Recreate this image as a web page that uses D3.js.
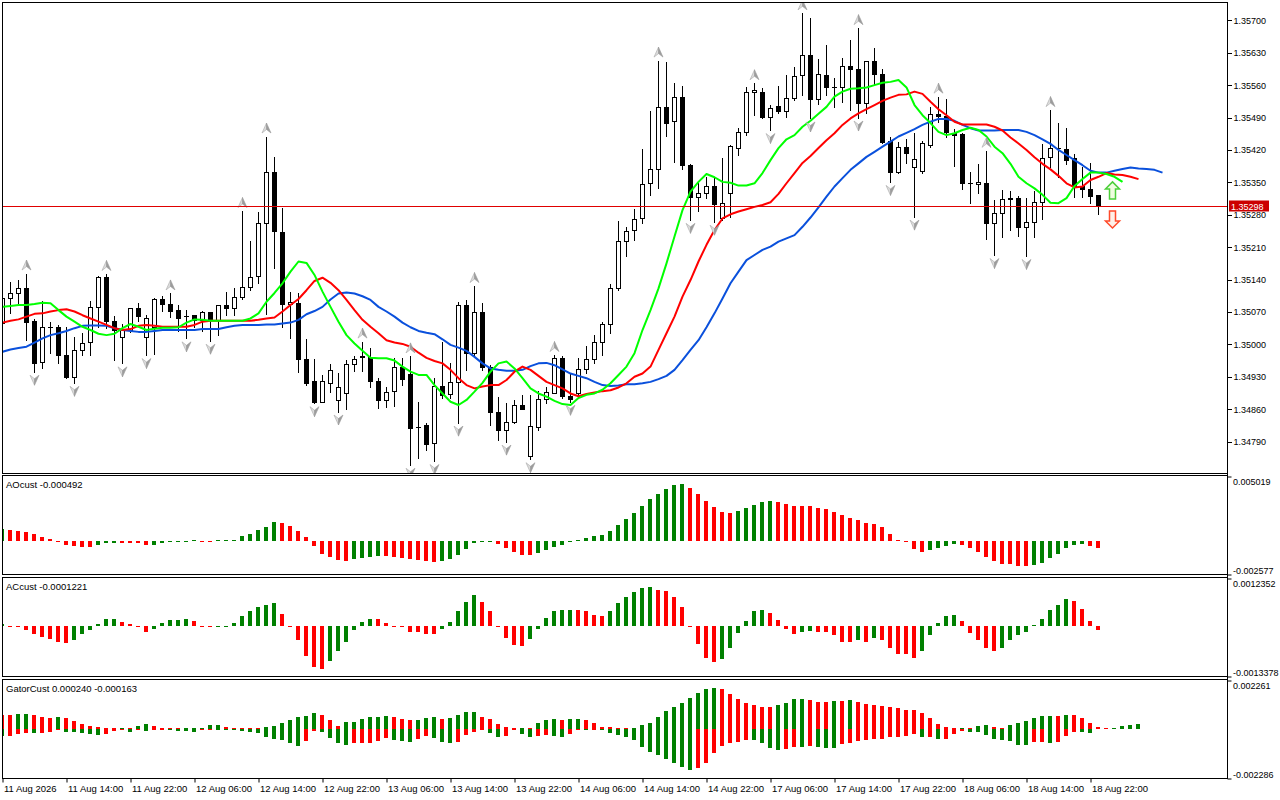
<!DOCTYPE html>
<html><head><meta charset="utf-8">
<script src="https://cdn.jsdelivr.net/npm/d3@7"></script>
<style>html,body{margin:0;padding:0;background:#fff;}svg{display:block;}</style>
</head><body>
<svg id="c" width="1280" height="800"></svg>
<script>
// ---------------- DATA ----------------
const opens = [1.35046,1.35100,1.35112,1.35121,1.35051,1.34961,1.35037,1.35037,1.34977,1.34930,
1.34988,1.35006,1.35080,1.35145,1.35051,1.35017,1.35031,1.35078,1.35015,1.35038,
1.35097,1.35087,1.35074,1.35062,1.35063,1.35053,1.35069,1.35053,1.35085,1.35078,
1.35103,1.35123,1.35148,1.35262,1.35372,1.35242,1.35087,1.35090,1.34968,1.34921,
1.34876,1.34917,1.34880,1.34896,1.34958,1.34974,1.34972,1.34920,1.34879,1.34899,
1.34951,1.34936,1.34822,1.34826,1.34786,1.34910,1.34892,1.34918,1.35085,1.34982,
1.35069,1.34952,1.34853,1.34814,1.34833,1.34868,1.34758,1.34821,1.34881,1.34896,
1.34970,1.34889,1.34894,1.34946,1.34968,1.35005,1.35043,1.35121,1.35223,1.35246,
1.35272,1.35348,1.35378,1.35512,1.35483,1.35534,1.35388,1.35319,1.35326,1.35343,
1.35272,1.35328,1.35425,1.35458,1.35546,1.35546,1.35491,1.35515,1.35505,1.35532,
1.35582,1.35625,1.35529,1.35582,1.35557,1.35557,1.35601,1.35595,1.35521,1.35612,
1.35583,1.35439,1.35372,1.35427,1.35384,1.35375,1.35431,1.35497,1.35494,1.35456,
1.35454,1.35348,1.35346,1.35348,1.35263,1.35283,1.35316,1.35317,1.35254,1.35265,
1.35308,1.35404,1.35424,1.35422,1.35402,1.35342,1.35335,1.35323];
const highs = [1.35108,1.35134,1.35139,1.35153,1.35055,1.35094,1.35049,1.35042,1.35038,1.35017,
1.35024,1.35094,1.35148,1.35152,1.35061,1.35044,1.35078,1.35090,1.35063,1.35101,
1.35105,1.35110,1.35085,1.35074,1.35063,1.35072,1.35070,1.35086,1.35114,1.35121,
1.35288,1.35223,1.35285,1.35449,1.35404,1.35294,1.35114,1.35110,1.35011,1.34968,
1.34934,1.34958,1.34938,1.34966,1.34974,1.35006,1.34992,1.34927,1.34909,1.34970,
1.34970,1.34974,1.34876,1.34830,1.34927,1.35006,1.34959,1.35092,1.35096,1.35126,
1.35089,1.34955,1.34887,1.34873,1.34879,1.34891,1.34891,1.34900,1.34909,1.34977,
1.34974,1.34937,1.34970,1.34997,1.35020,1.35049,1.35131,1.35267,1.35253,1.35292,
1.35422,1.35505,1.35613,1.35609,1.35565,1.35559,1.35390,1.35352,1.35362,1.35359,
1.35402,1.35430,1.35467,1.35555,1.35564,1.35553,1.35517,1.35558,1.35582,1.35600,
1.35715,1.35704,1.35616,1.35647,1.35575,1.35618,1.35657,1.35683,1.35612,1.35641,
1.35594,1.35449,1.35438,1.35443,1.35456,1.35440,1.35513,1.35535,1.35530,1.35465,
1.35456,1.35373,1.35390,1.35418,1.35312,1.35334,1.35332,1.35320,1.35316,1.35332,
1.35433,1.35506,1.35479,1.35467,1.35411,1.35384,1.35391,1.35323];
const lows = [1.35040,1.35067,1.35089,1.35010,1.34941,1.34948,1.34981,1.34959,1.34927,1.34917,
1.34977,1.34977,1.35038,1.35035,1.34966,1.34959,1.35027,1.35050,1.34977,1.34979,
1.35073,1.35060,1.35028,1.35013,1.35038,1.35028,1.35008,1.35020,1.35064,1.35064,
1.35098,1.35118,1.35133,1.35066,1.35164,1.35037,1.35013,1.34941,1.34912,1.34873,
1.34876,1.34898,1.34855,1.34860,1.34943,1.34943,1.34907,1.34863,1.34864,1.34866,
1.34912,1.34740,1.34755,1.34772,1.34748,1.34884,1.34884,1.34831,1.34945,1.34974,
1.34945,1.34826,1.34794,1.34790,1.34830,1.34860,1.34752,1.34815,1.34874,1.34894,
1.34884,1.34876,1.34887,1.34938,1.34959,1.34977,1.35025,1.35118,1.35190,1.35226,
1.35262,1.35323,1.35337,1.35451,1.35393,1.35378,1.35269,1.35289,1.35316,1.35265,
1.35268,1.35276,1.35410,1.35452,1.35496,1.35488,1.35463,1.35499,1.35491,1.35528,
1.35539,1.35488,1.35520,1.35539,1.35513,1.35524,1.35506,1.35490,1.35499,1.35560,
1.35434,1.35351,1.35370,1.35391,1.35276,1.35370,1.35427,1.35480,1.35449,1.35386,
1.35335,1.35305,1.35326,1.35228,1.35193,1.35233,1.35247,1.35234,1.35191,1.35233,
1.35270,1.35384,1.35362,1.35390,1.35319,1.35319,1.35306,1.35282];
const closes = [1.35100,1.35112,1.35121,1.35049,1.34959,1.35037,1.35038,1.34977,1.34930,1.34988,
1.35004,1.35080,1.35145,1.35051,1.35031,1.35031,1.35078,1.35061,1.35056,1.35097,
1.35087,1.35073,1.35058,1.35062,1.35053,1.35069,1.35053,1.35085,1.35078,1.35102,
1.35123,1.35145,1.35262,1.35372,1.35244,1.35087,1.35091,1.34968,1.34917,1.34876,
1.34920,1.34945,1.34907,1.34957,1.34968,1.34972,1.34920,1.34880,1.34898,1.34951,
1.34925,1.34820,1.34822,1.34784,1.34910,1.34891,1.34918,1.35084,1.34981,1.35069,
1.34952,1.34853,1.34814,1.34833,1.34868,1.34860,1.34824,1.34881,1.34897,1.34970,
1.34889,1.34882,1.34946,1.34968,1.35005,1.35043,1.35121,1.35223,1.35244,1.35270,
1.35346,1.35378,1.35512,1.35478,1.35535,1.35388,1.35319,1.35326,1.35343,1.35303,
1.35306,1.35429,1.35458,1.35546,1.35550,1.35491,1.35511,1.35505,1.35532,1.35580,
1.35625,1.35531,1.35584,1.35557,1.35557,1.35601,1.35594,1.35521,1.35612,1.35583,
1.35438,1.35373,1.35427,1.35413,1.35400,1.35434,1.35497,1.35494,1.35459,1.35452,
1.35348,1.35348,1.35351,1.35263,1.35283,1.35315,1.35313,1.35254,1.35265,1.35308,
1.35402,1.35424,1.35424,1.35398,1.35342,1.35335,1.35321,1.35298];

// Alligator lines (already shifted forward: jaw +8, teeth +5, lips +3 bars)
const jaw = [1.34984,1.34989,1.34992,1.34995,1.35004,1.35013,1.35020,1.35024,1.35029,1.35035,
1.35040,1.35041,1.35041,1.35040,1.35035,1.35031,1.35029,1.35027,1.35027,1.35029,
1.35031,1.35031,1.35031,1.35031,1.35031,1.35033,1.35033,1.35033,1.35037,1.35040,
1.35042,1.35042,1.35042,1.35043,1.35043,1.35045,1.35047,1.35053,1.35065,1.35072,
1.35081,1.35097,1.35110,1.35112,1.35110,1.35104,1.35096,1.35081,1.35071,1.35060,
1.35047,1.35037,1.35029,1.35025,1.35022,1.35011,1.34999,1.34993,1.34986,1.34973,
1.34959,1.34948,1.34945,1.34943,1.34943,1.34945,1.34953,1.34959,1.34960,1.34955,
1.34946,1.34937,1.34932,1.34927,1.34919,1.34912,1.34910,1.34911,1.34914,1.34914,
1.34916,1.34919,1.34925,1.34932,1.34945,1.34966,1.34988,1.35009,1.35037,1.35067,
1.35099,1.35132,1.35157,1.35182,1.35193,1.35204,1.35211,1.35222,1.35229,1.35236,
1.35254,1.35274,1.35296,1.35319,1.35341,1.35359,1.35377,1.35391,1.35405,1.35416,
1.35427,1.35438,1.35449,1.35457,1.35465,1.35474,1.35481,1.35487,1.35487,1.35483,
1.35474,1.35467,1.35462,1.35462,1.35462,1.35463,1.35463,1.35463,1.35459,1.35452,
1.35443,1.35433,1.35420,1.35409,1.35398,1.35387,1.35375,1.35371,1.35371,1.35375,
1.35379,1.35382,1.35380,1.35379,1.35377,1.35371];
const teeth = [1.35047,1.35051,1.35054,1.35060,1.35066,1.35067,1.35071,1.35074,1.35076,1.35071,
1.35063,1.35056,1.35049,1.35042,1.35035,1.35031,1.35033,1.35040,1.35042,1.35040,
1.35038,1.35038,1.35038,1.35038,1.35042,1.35049,1.35051,1.35051,1.35051,1.35051,
1.35051,1.35051,1.35053,1.35056,1.35058,1.35071,1.35085,1.35098,1.35117,1.35137,
1.35144,1.35133,1.35117,1.35096,1.35074,1.35053,1.35038,1.35024,1.35009,1.35004,
1.35001,1.34995,1.34982,1.34971,1.34964,1.34959,1.34945,1.34927,1.34912,1.34905,
1.34909,1.34912,1.34912,1.34923,1.34941,1.34952,1.34945,1.34932,1.34919,1.34912,
1.34905,1.34894,1.34888,1.34893,1.34896,1.34899,1.34901,1.34907,1.34916,1.34930,
1.34937,1.34952,1.34988,1.35024,1.35060,1.35103,1.35139,1.35179,1.35215,1.35247,
1.35272,1.35281,1.35287,1.35292,1.35297,1.35301,1.35307,1.35325,1.35348,1.35370,
1.35392,1.35407,1.35424,1.35441,1.35456,1.35474,1.35488,1.35499,1.35508,1.35517,
1.35526,1.35533,1.35539,1.35540,1.35546,1.35541,1.35524,1.35508,1.35495,1.35481,
1.35475,1.35475,1.35475,1.35475,1.35470,1.35462,1.35447,1.35434,1.35420,1.35404,
1.35390,1.35378,1.35364,1.35348,1.35339,1.35341,1.35355,1.35362,1.35370,1.35367,
1.35366,1.35362,1.35357];
const lips = [1.35081,1.35083,1.35085,1.35085,1.35087,1.35090,1.35089,1.35074,1.35060,1.35049,
1.35038,1.35031,1.35023,1.35020,1.35023,1.35035,1.35044,1.35038,1.35031,1.35034,
1.35036,1.35036,1.35037,1.35047,1.35054,1.35053,1.35051,1.35051,1.35051,1.35051,
1.35051,1.35056,1.35067,1.35092,1.35111,1.35132,1.35157,1.35179,1.35176,1.35150,
1.35114,1.35081,1.35049,1.35020,1.35002,1.34986,1.34971,1.34970,1.34970,1.34965,
1.34952,1.34941,1.34934,1.34934,1.34912,1.34894,1.34876,1.34869,1.34880,1.34898,
1.34917,1.34941,1.34959,1.34963,1.34948,1.34927,1.34905,1.34894,1.34887,1.34878,
1.34871,1.34869,1.34884,1.34891,1.34894,1.34902,1.34916,1.34934,1.34952,1.34981,
1.35031,1.35074,1.35121,1.35175,1.35233,1.35290,1.35330,1.35351,1.35368,1.35361,
1.35351,1.35349,1.35343,1.35343,1.35348,1.35370,1.35398,1.35424,1.35443,1.35452,
1.35470,1.35483,1.35498,1.35513,1.35535,1.35546,1.35552,1.35553,1.35555,1.35560,
1.35565,1.35567,1.35571,1.35555,1.35517,1.35495,1.35478,1.35459,1.35452,1.35456,
1.35463,1.35468,1.35463,1.35449,1.35427,1.35413,1.35390,1.35362,1.35348,1.35337,
1.35323,1.35306,1.35305,1.35316,1.35342,1.35357,1.35371,1.35371,1.35368,1.35362,
1.35351];

// Fractal bars
const fractalUpBars = [3,13,21,30,33,45,51,59,69,82,94,100,107,117,123,131];
const fractalDownBars = [4,9,15,18,23,26,39,42,51,54,57,63,66,71,86,89,96,101,107,111,114,124,128];

// Signal arrows (bar position, price of arrow top)
const signalBar = 138.75;
const signalUpPrice = 1.35351;
const signalDownPrice = 1.35288;

const currentPrice = 1.35298;

// Awesome oscillator
const ao = [0.00093,0.00091,0.00083,0.00070,0.00060,0.00036,0.00021,-0.00005,-0.00026,-0.00039,
-0.00042,-0.00047,-0.00031,-0.00015,-0.00012,-0.00014,-0.00015,-0.00016,-0.00031,-0.00029,
-0.00013,-0.00008,-0.00005,-0.00003,0.00013,-0.00003,-0.00004,0.00002,0.00003,0.00005,
0.00039,0.00060,0.00091,0.00114,0.00151,0.00143,0.00122,0.00083,0.00031,-0.00039,
-0.00096,-0.00120,-0.00143,-0.00151,-0.00138,-0.00130,-0.00120,-0.00112,-0.00113,-0.00120,
-0.00127,-0.00135,-0.00148,-0.00156,-0.00164,-0.00156,-0.00140,-0.00109,-0.00062,-0.00016,
-0.00006,-0.00003,-0.00021,-0.00055,-0.00086,-0.00104,-0.00109,-0.00094,-0.00070,-0.00047,
-0.00031,-0.00008,0.00010,0.00029,0.00039,0.00047,0.00078,0.00125,0.00172,0.00218,
0.00273,0.00328,0.00364,0.00408,0.00434,0.00442,0.00411,0.00364,0.00309,0.00263,
0.00224,0.00216,0.00234,0.00255,0.00278,0.00302,0.00312,0.00302,0.00289,0.00272,
0.00271,0.00270,0.00257,0.00247,0.00226,0.00200,0.00177,0.00161,0.00138,0.00130,
0.00109,0.00060,0.00013,-0.00008,-0.00062,-0.00086,-0.00070,-0.00055,-0.00039,-0.00023,
-0.00031,-0.00055,-0.00086,-0.00125,-0.00156,-0.00179,-0.00180,-0.00190,-0.00195,-0.00187,
-0.00166,-0.00133,-0.00101,-0.00055,-0.00031,-0.00021,-0.00034,-0.00049];

// Accelerator oscillator
const ac = [0.00004,-0.00003,-0.00005,-0.00013,-0.00021,-0.00030,-0.00035,-0.00042,-0.00045,-0.00037,
-0.00023,-0.00013,0.00003,0.00017,0.00018,0.00010,0.00004,-0.00005,-0.00016,-0.00010,
0.00007,0.00014,0.00015,0.00016,0.00012,-0.00002,-0.00005,-0.00004,-0.00002,0.00007,
0.00025,0.00038,0.00049,0.00055,0.00060,0.00031,-0.00003,-0.00038,-0.00080,-0.00110,
-0.00114,-0.00092,-0.00068,-0.00042,-0.00011,0.00010,0.00017,0.00016,0.00007,-0.00003,
-0.00004,-0.00016,-0.00018,-0.00021,-0.00022,-0.00008,0.00010,0.00037,0.00063,0.00079,
0.00063,0.00037,-0.00002,-0.00032,-0.00051,-0.00053,-0.00035,-0.00008,0.00021,0.00037,
0.00041,0.00042,0.00041,0.00037,0.00028,0.00025,0.00039,0.00060,0.00075,0.00087,
0.00099,0.00101,0.00094,0.00091,0.00075,0.00049,-0.00002,-0.00048,-0.00085,-0.00095,
-0.00089,-0.00059,-0.00019,0.00012,0.00039,0.00041,0.00033,0.00015,-0.00008,-0.00022,
-0.00018,-0.00014,-0.00016,-0.00017,-0.00025,-0.00042,-0.00044,-0.00039,-0.00042,-0.00032,
-0.00037,-0.00058,-0.00074,-0.00075,-0.00084,-0.00068,-0.00026,0.00007,0.00025,0.00028,
0.00012,-0.00019,-0.00039,-0.00059,-0.00066,-0.00059,-0.00037,-0.00026,-0.00018,0.00002,
0.00018,0.00041,0.00054,0.00070,0.00065,0.00044,0.00012,-0.00012];

// Gator oscillator
const gatorUpper = [0.000662,0.000647,0.000693,0.000708,0.000662,0.000554,0.000539,0.000570,0.000524,0.000370,
0.000246,0.000139,0.000108,0.000046,0.000031,0.000077,0.000015,0.000154,0.000246,0.000154,
0.000046,0.000031,0.000015,0.000018,0.000031,0.000062,0.000200,0.000216,0.000123,0.000077,
0.000062,0.000031,0.000015,0.000108,0.000154,0.000308,0.000416,0.000570,0.000616,0.000739,
0.000662,0.000416,0.000154,0.000323,0.000354,0.000462,0.000554,0.000585,0.000593,0.000554,
0.000462,0.000416,0.000431,0.000539,0.000554,0.000493,0.000539,0.000662,0.000785,0.000793,
0.000585,0.000462,0.000262,0.000123,0.000046,0.000077,0.000046,0.000277,0.000416,0.000462,
0.000447,0.000470,0.000477,0.000416,0.000277,0.000123,0.000108,0.000077,0.000046,0.000077,
0.000200,0.000308,0.000585,0.000847,0.001032,0.001201,0.001432,0.001663,0.001848,0.001894,
0.001848,0.001617,0.001386,0.001201,0.001109,0.001047,0.001032,0.001109,0.001232,0.001386,
0.001394,0.001340,0.001278,0.001263,0.001309,0.001294,0.001340,0.001263,0.001186,0.001124,
0.001078,0.001032,0.000970,0.000909,0.000893,0.000739,0.000508,0.000231,0.000108,0.000015,
0.000046,0.000031,0.000154,0.000200,0.000108,0.000046,0.000200,0.000308,0.000385,0.000508,
0.000616,0.000624,0.000616,0.000662,0.000647,0.000508,0.000308,0.000108,0.000046,0.000054,
0.000154,0.000200,0.000240];
const gatorLower = [-0.000308,-0.000300,-0.000200,-0.000154,-0.000170,-0.000154,-0.000108,-0.000031,-0.000123,-0.000139,
-0.000154,-0.000200,-0.000246,-0.000200,-0.000092,-0.000031,-0.000123,-0.000046,-0.000062,-0.000031,
-0.000028,-0.000046,-0.000077,-0.000092,-0.000108,-0.000031,-0.000015,-0.000031,-0.000033,-0.000046,
-0.000092,-0.000123,-0.000154,-0.000354,-0.000462,-0.000508,-0.000616,-0.000770,-0.000539,-0.000077,
-0.000123,-0.000385,-0.000616,-0.000724,-0.000662,-0.000647,-0.000631,-0.000539,-0.000385,-0.000508,
-0.000539,-0.000570,-0.000462,-0.000308,-0.000385,-0.000585,-0.000662,-0.000585,-0.000262,-0.000123,
-0.000031,-0.000154,-0.000339,-0.000323,-0.000031,-0.000200,-0.000354,-0.000308,-0.000277,-0.000308,
-0.000354,-0.000231,-0.000046,-0.000054,-0.000015,-0.000046,-0.000154,-0.000262,-0.000354,-0.000508,
-0.000816,-0.001047,-0.001186,-0.001386,-0.001586,-0.001740,-0.001879,-0.001802,-0.001586,-0.001124,
-0.000770,-0.000662,-0.000585,-0.000493,-0.000508,-0.000647,-0.000878,-0.000955,-0.000924,-0.000816,
-0.000847,-0.000770,-0.000816,-0.000878,-0.000886,-0.000693,-0.000647,-0.000539,-0.000493,-0.000462,
-0.000431,-0.000354,-0.000339,-0.000308,-0.000200,-0.000354,-0.000339,-0.000462,-0.000447,-0.000200,
-0.000077,-0.000108,-0.000123,-0.000262,-0.000462,-0.000508,-0.000539,-0.000724,-0.000739,-0.000585,
-0.000570,-0.000647,-0.000585,-0.000308,-0.000123,-0.000139,-0.000163];

// Axis labels
const priceTicks = [1.35700,1.35630,1.35560,1.35490,1.35420,1.35350,1.35280,1.35210,1.35140,1.35070,1.35000,1.34930,1.34860,1.34790];
const dateTickBars = [0,8,16,24,32,40,48,56,64,72,80,88,96,104,112,120,128,136];
const dateTickLabels = ["11 Aug 2026","11 Aug 14:00","11 Aug 22:00","12 Aug 06:00","12 Aug 14:00","12 Aug 22:00","13 Aug 06:00","13 Aug 14:00","13 Aug 22:00","14 Aug 06:00","14 Aug 14:00","14 Aug 22:00","17 Aug 06:00","17 Aug 14:00","17 Aug 22:00","18 Aug 06:00","18 Aug 14:00","18 Aug 22:00"];
const aoRange = [-0.002577, 0.005019];
const acRange = [-0.0013378, 0.0012352];
const gatorRange = [-0.002286, 0.002261];
const aoRangeLabels = ["-0.002577","0.005019"];
const acRangeLabels = ["-0.0013378","0.0012352"];
const gatorRangeLabels = ["-0.002286","0.002261"];
const panelTitles = ["AOcust -0.000492","ACcust -0.0001221","GatorCust 0.000240 -0.000163"];

// ---------------- DRAWING ----------------
const FONT = '"Liberation Sans", Arial, sans-serif';
const FS = '9.5px';
const FS_AXIS = '9px';
const GREEN = '#008000', RED = '#ff0000';
const svg = d3.select('#c');
svg.append('rect').attr('width',1280).attr('height',800).attr('fill','#fff');

const LEFT = 2.5, RIGHT = 1227.5;
const panels = {
  main: {top: 2.5, bottom: 473.5},
  ao: {top: 475.5, bottom: 574.5},
  ac: {top: 577.5, bottom: 676.5},
  gator: {top: 679.5, bottom: 778.5}
};

const x = d3.scaleLinear().domain([0, 152.75]).range([2.5, 1224.5]);
const yMain = d3.scaleLinear().domain([1.3479, 1.357]).range([441.6, 20.3]);
const yAO = d3.scaleLinear().domain(aoRange).range([574.5, 476.5]);
const yAC = d3.scaleLinear().domain(acRange).range([676.5, 578.5]);
const yG = d3.scaleLinear().domain(gatorRange).range([778.5, 680.5]);

const defs = svg.append('defs');
Object.entries(panels).forEach(([k,p]) => {
  defs.append('clipPath').attr('id','clip-'+k).append('rect')
    .attr('x', LEFT+0.5).attr('y', p.top+0.5).attr('width', RIGHT-LEFT-1).attr('height', p.bottom-p.top-1);
});

// --- candles ---
const gc = svg.append('g').attr('clip-path','url(#clip-main)');
const idx = d3.range(opens.length);
gc.selectAll('line.wick').data(idx).join('line').attr('class','wick')
  .attr('x1', i => x(i)).attr('x2', i => x(i))
  .attr('y1', i => Math.round(yMain(highs[i]))).attr('y2', i => Math.round(yMain(lows[i]))+1)
  .attr('stroke','#000').attr('stroke-width',1);
idx.forEach(i => {
  const o = opens[i], c = closes[i];
  const t = Math.round(yMain(Math.max(o,c))), b = Math.round(yMain(Math.min(o,c)));
  const h = b - t;
  if (h < 1) {
    gc.append('line').attr('x1', x(i)-2.5).attr('x2', x(i)+2.5)
      .attr('y1', t+0.5).attr('y2', t+0.5).attr('stroke','#000');
  } else if (c >= o) {
    gc.append('rect').attr('x', x(i)-2).attr('y', t+0.5).attr('width',4).attr('height',h)
      .attr('fill','#fff').attr('stroke','#000').attr('stroke-width',1);
  } else {
    gc.append('rect').attr('x', x(i)-2.5).attr('y', t).attr('width',5).attr('height',h+1)
      .attr('fill','#000');
  }
});

// --- alligator ---
const lineGen = d3.line().x((d,i) => x(i)).y(d => yMain(d));
[[jaw,'#0a50dc'],[teeth,'#ff0000'],[lips,'#00ff00']].forEach(([arr,col]) => {
  gc.append('path').datum(arr).attr('d', lineGen).attr('fill','none')
    .attr('stroke', col).attr('stroke-width', 2).attr('stroke-linejoin','round');
});

// --- fractal arrows ---
function fractal(cx, cy, up) {
  const s = up ? 1 : -1;
  const tip = [cx, cy - 5*s], r = [cx+4.5, cy + 5*s], l = [cx-4.5, cy + 5*s], n = [cx, cy + 1.5*s];
  const p = pts => 'M' + pts.map(q => q.join(',')).join('L') + 'Z';
  gc.append('path').attr('d', p([tip, n, l])).attr('fill','#dcdcdc').attr('stroke','#a8a8a8').attr('stroke-width',0.6);
  gc.append('path').attr('d', p([tip, r, n])).attr('fill','#9c9c9c').attr('stroke','#9c9c9c').attr('stroke-width',0.6);
}
fractalUpBars.forEach(i => fractal(x(i), yMain(highs[i]) - 8.5, true));
fractalDownBars.forEach(i => fractal(x(i), yMain(lows[i]) + 8.5, false));

// --- signal arrows ---
{
  const cx = x(signalBar), ty = yMain(signalUpPrice);
  gc.append('path').attr('d', `M${cx},${ty} L${cx+7},${ty+7} L${cx+3},${ty+7} L${cx+3},${ty+17} L${cx-3},${ty+17} L${cx-3},${ty+7} L${cx-7},${ty+7} Z`)
    .attr('fill','#effde0').attr('stroke','#4ccf3a').attr('stroke-width',1.5).attr('stroke-linejoin','miter');
  const td = yMain(signalDownPrice);
  gc.append('path').attr('d', `M${cx-3},${td} L${cx+3},${td} L${cx+3},${td+10} L${cx+7},${td+10} L${cx},${td+17} L${cx-7},${td+10} L${cx-3},${td+10} Z`)
    .attr('fill','#fff0e8').attr('stroke','#ff4a2a').attr('stroke-width',1.5).attr('stroke-linejoin','miter');
}

// --- current price line ---
const cpY = Math.round(yMain(currentPrice)) + 0.5;
svg.append('line').attr('x1', LEFT).attr('x2', RIGHT).attr('y1', cpY).attr('y2', cpY)
  .attr('stroke','#e00000').attr('stroke-width',1);

// --- histograms ---
function histo(vals, yS, clip, firstUp, lower) {
  const g = svg.append('g').attr('clip-path', `url(#clip-${clip})`);
  const y0 = Math.round(yS(0));
  g.selectAll('rect').data(vals).join('rect')
    .attr('x', (d,i) => x(i) - 2.5)
    .attr('width', 4)
    .attr('y', d => d >= 0 ? Math.min(Math.round(yS(d)), y0 - 1) : y0)
    .attr('height', d => Math.max(1, Math.abs(Math.round(yS(d)) - y0)))
    .attr('fill', (d,i) => {
      const up = i === 0 ? firstUp : (lower ? Math.abs(d) > Math.abs(vals[i-1]) : d > vals[i-1]);
      return up ? GREEN : RED;
    });
}
histo(ao, yAO, 'ao', true, false);
histo(ac, yAC, 'ac', true, false);
histo(gatorUpper, yG, 'gator', false, false);
histo(gatorLower, yG, 'gator', true, true);

// --- frames ---
Object.values(panels).forEach(p => {
  svg.append('rect').attr('x', LEFT).attr('y', p.top).attr('width', RIGHT-LEFT).attr('height', p.bottom-p.top)
    .attr('fill','none').attr('stroke','#000').attr('stroke-width',1);
});
svg.append('line').attr('x1',RIGHT).attr('x2',RIGHT).attr('y1',2.5).attr('y2',778.5).attr('stroke','#000');

// --- price axis ---
const pa = svg.append('g').attr('transform', `translate(${RIGHT},0)`)
  .call(d3.axisRight(yMain).tickValues(priceTicks).tickFormat(d3.format('.5f')).tickSize(4).tickPadding(2));
pa.select('.domain').remove();
pa.selectAll('line').attr('stroke','#000').attr('shape-rendering','crispEdges');
pa.selectAll('text').attr('font-family', FONT).attr('font-size', FS_AXIS).attr('fill','#000');

// current price box
svg.append('rect').attr('x', 1229).attr('y', cpY - 6).attr('width', 40).attr('height', 11).attr('fill','#cc0000');
svg.append('text').attr('x', 1231).attr('y', cpY + 3.5).text(d3.format('.5f')(currentPrice))
  .attr('font-family', FONT).attr('font-size', FS_AXIS).attr('fill','#fff');

// --- indicator axes ---
function panelAxis(yS, range, labels) {
  const g = svg.append('g').attr('transform', `translate(${RIGHT},0)`)
    .call(d3.axisRight(yS).tickValues(range).tickFormat((d,i) => labels[i]).tickSize(4).tickPadding(1.5));
  g.select('.domain').remove();
  g.selectAll('line').attr('stroke','#000');
  g.selectAll('text').attr('font-family', FONT).attr('font-size', FS_AXIS).attr('fill','#000')
    .attr('dy', (d,i) => i === 1 ? '8px' : '-1.5px');
}
panelAxis(yAO, aoRange, aoRangeLabels);
panelAxis(yAC, acRange, acRangeLabels);
panelAxis(yG, gatorRange, gatorRangeLabels);

// --- panel titles ---
[[panels.ao, panelTitles[0]],[panels.ac, panelTitles[1]],[panels.gator, panelTitles[2]]].forEach(([p,t]) => {
  svg.append('text').attr('x', 6).attr('y', p.top + 12.5).text(t)
    .attr('font-family', FONT).attr('font-size', FS).attr('fill','#000');
});

// --- time axis ---
const ta = svg.append('g').attr('transform', `translate(0,${panels.gator.bottom})`)
  .call(d3.axisBottom(x).tickValues(dateTickBars).tickFormat((d,i) => dateTickLabels[i]).tickSize(4).tickPadding(3));
ta.select('.domain').remove();
ta.selectAll('line').attr('stroke','#000');
ta.selectAll('text').attr('font-family', FONT).attr('font-size', FS).attr('fill','#000')
  .attr('text-anchor','start').attr('x', 1);
</script>
</body></html>
